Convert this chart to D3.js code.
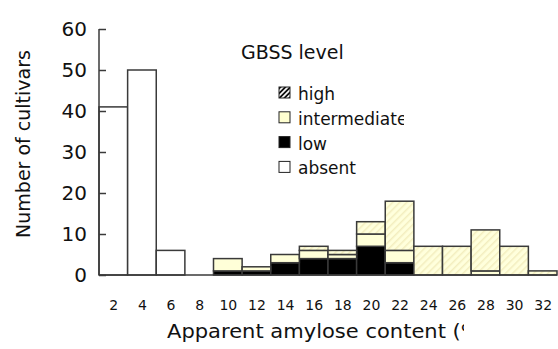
<!DOCTYPE html>
<html>
<head>
<meta charset="utf-8">
<script src="https://cdn.jsdelivr.net/npm/d3@7"></script>
<style>
  html, body { margin: 0; padding: 0; background: #fff; }
  svg { display: block; font-family: "DejaVu Sans", sans-serif; }
</style>
</head>
<body>
<svg id="chart" width="558" height="349"></svg>
<script>
const bins = [2, 4, 6, 8, 10, 12, 14, 16, 18, 20, 22, 24, 26, 28, 30, 32];
const absent = [41, 50, 6, 0, 0, 0, 0, 0, 0, 0, 0, 0, 0, 0, 0, 0];
const low = [0, 0, 0, 0, 1, 1, 3, 4, 4, 7, 3, 0, 0, 0, 0, 0];
const intermediate = [0, 0, 0, 0, 3, 1, 2, 2, 1, 3, 3, 0, 0, 1, 0, 0];
const high = [0, 0, 0, 0, 0, 0, 0, 1, 1, 3, 12, 7, 7, 10, 7, 1];
const yTicks = [0, 10, 20, 30, 40, 50, 60];
const seriesKeys = ["absent", "low", "intermediate", "high"];
const legendLabels = ["high", "intermediate", "low", "absent"];

const svg = d3.select("#chart");
const stroke = "#3a3a3a";

const defs = svg.append("defs");
const hp = defs.append("pattern").attr("id", "hatch").attr("patternUnits", "userSpaceOnUse")
  .attr("width", 5).attr("height", 5).attr("patternTransform", "rotate(45)");
hp.append("rect").attr("width", 5).attr("height", 5).attr("fill", "#ffffdc");
hp.append("rect").attr("width", 1.5).attr("height", 5).attr("fill", "#f3eebf");
const hp2 = defs.append("pattern").attr("id", "hatchDark").attr("patternUnits", "userSpaceOnUse")
  .attr("width", 3.5).attr("height", 3.5).attr("patternTransform", "rotate(45)");
hp2.append("rect").attr("width", 3.5).attr("height", 3.5).attr("fill", "#fff");
hp2.append("rect").attr("width", 1.8).attr("height", 3.5).attr("fill", "#111");
defs.append("clipPath").attr("id", "clipX").append("rect").attr("x", 0).attr("y", 300).attr("width", 464).attr("height", 49);
defs.append("clipPath").attr("id", "clipLeg").append("rect").attr("x", 0).attr("y", 0).attr("width", 404).attr("height", 200);

const fills = { absent: "#ffffff", low: "#000000", intermediate: "#ffffd8", high: "url(#hatch)" };

const x = d3.scaleLinear().domain([1, 33]).range([99, 557]);
const y = d3.scaleLinear().domain([0, 60]).range([275, 29]);

const table = bins.map((b, i) => ({ bin: b, absent: absent[i], low: low[i], intermediate: intermediate[i], high: high[i] }));
const stacked = d3.stack().keys(seriesKeys)(table);

const g = svg.append("g");
stacked.forEach(layer => {
  g.selectAll(null).data(layer.filter(d => d[1] > d[0])).enter().append("rect")
    .attr("x", d => x(d.data.bin - 1))
    .attr("width", d => x(d.data.bin + 1) - x(d.data.bin - 1))
    .attr("y", d => y(d[1]))
    .attr("height", d => y(d[0]) - y(d[1]))
    .attr("fill", fills[layer.key])
    .attr("stroke", stroke).attr("stroke-width", 1.5);
});

// y axis
const yAxis = d3.axisRight(y).tickValues(yTicks).tickSize(7).tickFormat("");
const ya = svg.append("g").attr("transform", "translate(99,0)").call(yAxis);
ya.select(".domain").attr("stroke", stroke).attr("stroke-width", 1.5).attr("d", `M0,${y(0)}V${y(60)}`);
ya.selectAll(".tick line").attr("stroke", stroke).attr("stroke-width", 1.5);
svg.append("g").selectAll("text").data(yTicks).enter().append("text")
  .attr("x", 87).attr("y", d => y(d) + 7).attr("text-anchor", "end")
  .attr("font-size", 20).attr("fill", "#111").text(d => d);

// x baseline
const xAxis = d3.axisBottom(x).tickValues(bins).tickSize(0).tickFormat(d => d);
const xa = svg.append("g").attr("transform", `translate(0,${y(0)})`).call(xAxis);
xa.select(".domain").attr("stroke", stroke).attr("stroke-width", 1.5).attr("d", `M${x(1)},0H${x(33)}`);
xa.selectAll(".tick text").attr("y", 35).attr("dy", 0).attr("font-size", 14)
  .attr("font-family", "DejaVu Sans").attr("fill", "#111");

// titles
svg.append("text").attr("transform", "translate(30,144) rotate(-90)").attr("text-anchor", "middle")
  .attr("font-size", 19).attr("fill", "#111").text("Number of cultivars");
svg.append("text").attr("clip-path", "url(#clipX)").attr("x", 167).attr("y", 338)
  .attr("font-size", 19).attr("fill", "#111")
  .attr("textLength", 322).attr("lengthAdjust", "spacingAndGlyphs")
  .text("Apparent amylose content (%)");

// legend
svg.append("text").attr("x", 241).attr("y", 59).attr("font-size", 19).attr("fill", "#111").text("GBSS level");
const lg = svg.append("g").attr("clip-path", "url(#clipLeg)");
const legFill = { high: "url(#hatchDark)", intermediate: "#ffffd0", low: "#000", absent: "#fff" };
legendLabels.forEach((k, i) => {
  const by = 100 + i * 24.8;
  lg.append("rect").attr("x", 279).attr("y", by - 13).attr("width", 11).attr("height", 11)
    .attr("fill", legFill[k]).attr("stroke", "#222").attr("stroke-width", 1);
  lg.append("text").attr("x", 298).attr("y", by).attr("font-size", 17).attr("fill", "#111").text(k);
});
</script>
</body>
</html>
